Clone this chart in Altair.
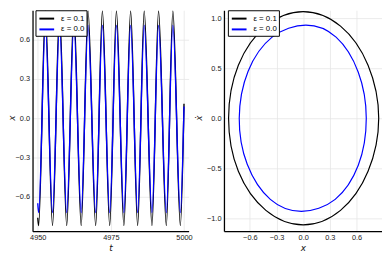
import altair as alt
import pandas as pd

# ---- data ----
series = ["ε = 0.1", "ε = 0.0"]
colors = ["black", "blue"]

# time series: start, alternating troughs / peaks, end
t_key = [4950.0, 4950.3, 4952.6, 4955.05, 4957.45, 4959.9, 4962.35, 4964.85,
         4967.2, 4969.8, 4972.1, 4974.6, 4976.9, 4979.45, 4981.75, 4984.15,
         4986.4, 4989.05, 4991.3, 4993.95, 4996.2, 4998.75, 5000.0]
x_eps01 = [-0.76, -0.82, 0.82, -0.82, 0.82, -0.82, 0.82, -0.82, 0.82, -0.82,
           0.82, -0.82, 0.82, -0.82, 0.82, -0.82, 0.82, -0.82, 0.82, -0.82,
           0.82, -0.82, 0.11]
x_eps00 = [-0.65, -0.72, 0.71, -0.72, 0.71, -0.72, 0.71, -0.72, 0.71, -0.72,
           0.71, -0.72, 0.71, -0.72, 0.71, -0.72, 0.71, -0.72, 0.71, -0.72,
           0.71, -0.72, 0.09]

# phase portrait points (x, xdot) going round each orbit
ph_x_01 = [0.0, 0.42, 0.73, 0.85, 0.73, 0.42, 0.0, -0.42, -0.73, -0.84, -0.73, -0.42]
ph_v_01 = [1.065, 0.92, 0.53, 0.0, -0.53, -0.92, -1.065, -0.92, -0.53, 0.0, 0.53, 0.92]
ph_x_00 = [0.03, 0.37, 0.62, 0.71, 0.62, 0.36, -0.02, -0.37, -0.63, -0.72, -0.62, -0.35]
ph_v_00 = [0.93, 0.81, 0.46, 0.0, -0.47, -0.81, -0.93, -0.81, -0.46, 0.0, 0.47, 0.81]

t_ticks = [4950, 4975, 5000]
x_ticks = [-0.6, -0.3, 0.0, 0.3, 0.6]
v_ticks = [-1.0, -0.5, 0.0, 0.5, 1.0]

FONT = "Liberation Sans"
TFONT = "DejaVu Sans"

n = len(t_key)
df_t = pd.DataFrame({
    "t": t_key + t_key,
    "x": x_eps01 + x_eps00,
    "s": [series[0]] * n + [series[1]] * n,
})
m = len(ph_x_01)
df_p = pd.DataFrame({
    "x": ph_x_01 + ph_x_00,
    "v": ph_v_01 + ph_v_00,
    "s": [series[0]] * m + [series[1]] * len(ph_x_00),
    "i": list(range(m)) + list(range(len(ph_x_00))),
})


def color_enc(lx):
    return alt.Color(
        "s:N",
        scale=alt.Scale(domain=series, range=colors),
        legend=alt.Legend(
            title=None, orient="none", legendX=lx, legendY=0,
            symbolType="M-0.82,0H1.91", symbolSize=121, symbolStrokeWidth=2,
            labelFont=FONT, labelFontSize=8, labelColor="black",
            labelOffset=11, rowPadding=0, padding=2,
            strokeColor="black", fillColor="white", cornerRadius=0,
        ),
    )


LW = 1.4
H = 225

# ---- left panel: x(t) ----
base_l = alt.Chart(df_t).mark_line(interpolate="monotone", strokeWidth=LW, clip=True,
                                   strokeJoin="round").encode(
    x=alt.X("t:Q", scale=alt.Scale(domain=[4948.22, 5001.58], nice=False, zero=False),
            axis=alt.Axis(values=t_ticks, format="d", title="t")),
    y=alt.Y("x:Q", scale=alt.Scale(domain=[-0.8625, 0.825], nice=False, zero=False),
            axis=alt.Axis(values=x_ticks, format=".1f", title="x",
                          titleX=-18, titleY=109.5, titleBaseline="alphabetic")),
    color=color_enc(3),
)
left = alt.layer(
    base_l.transform_filter(alt.datum.s == series[0]),
    base_l.transform_filter(alt.datum.s == series[1]),
).properties(width=159, height=H)

# ---- right panel: phase portrait ----
base_r = alt.Chart(df_p).mark_line(interpolate="cardinal-closed", strokeWidth=1.2, clip=True,
                                   strokeJoin="round").encode(
    x=alt.X("x:Q", scale=alt.Scale(domain=[-0.892, 0.887], nice=False, zero=False),
            axis=alt.Axis(values=x_ticks, format=".1f", title="x")),
    y=alt.Y("v:Q", scale=alt.Scale(domain=[-1.127, 1.078], nice=False, zero=False),
            axis=alt.Axis(values=v_ticks, format=".1f", title="ẋ",
                          titleX=-23, titleY=109.5, titleBaseline="alphabetic")),
    order=alt.Order("i:Q"),
    color=color_enc(4),
)
right = alt.layer(
    base_r.transform_filter(alt.datum.s == series[0]),
    base_r.transform_filter(alt.datum.s == series[1]),
).properties(width=161, height=H)

chart = (
    alt.hconcat(left, right, spacing=36, bounds="flush")
    .resolve_scale(color="independent")
    .resolve_legend(color="independent")
    .properties(padding={"left": 0, "top": -1, "right": 0, "bottom": 0}, background="white")
    .configure_view(stroke=None)
    .configure_axis(
        labelFont=FONT, labelFontSize=7.5, labelColor="#222", labelPadding=3,
        labelFlush=False, labelOverlap=False,
        titleFont=TFONT, titleFontSize=9, titleFontStyle="italic", titleFontWeight="normal",
        titleColor="#111", titlePadding=2,
        domainColor="black", domainWidth=1.3,
        gridColor="#e6e6e6", gridWidth=0.8, ticks=False,
    )
)

chart.save("out.html", embed_options={"renderer": "svg", "actions": False})
